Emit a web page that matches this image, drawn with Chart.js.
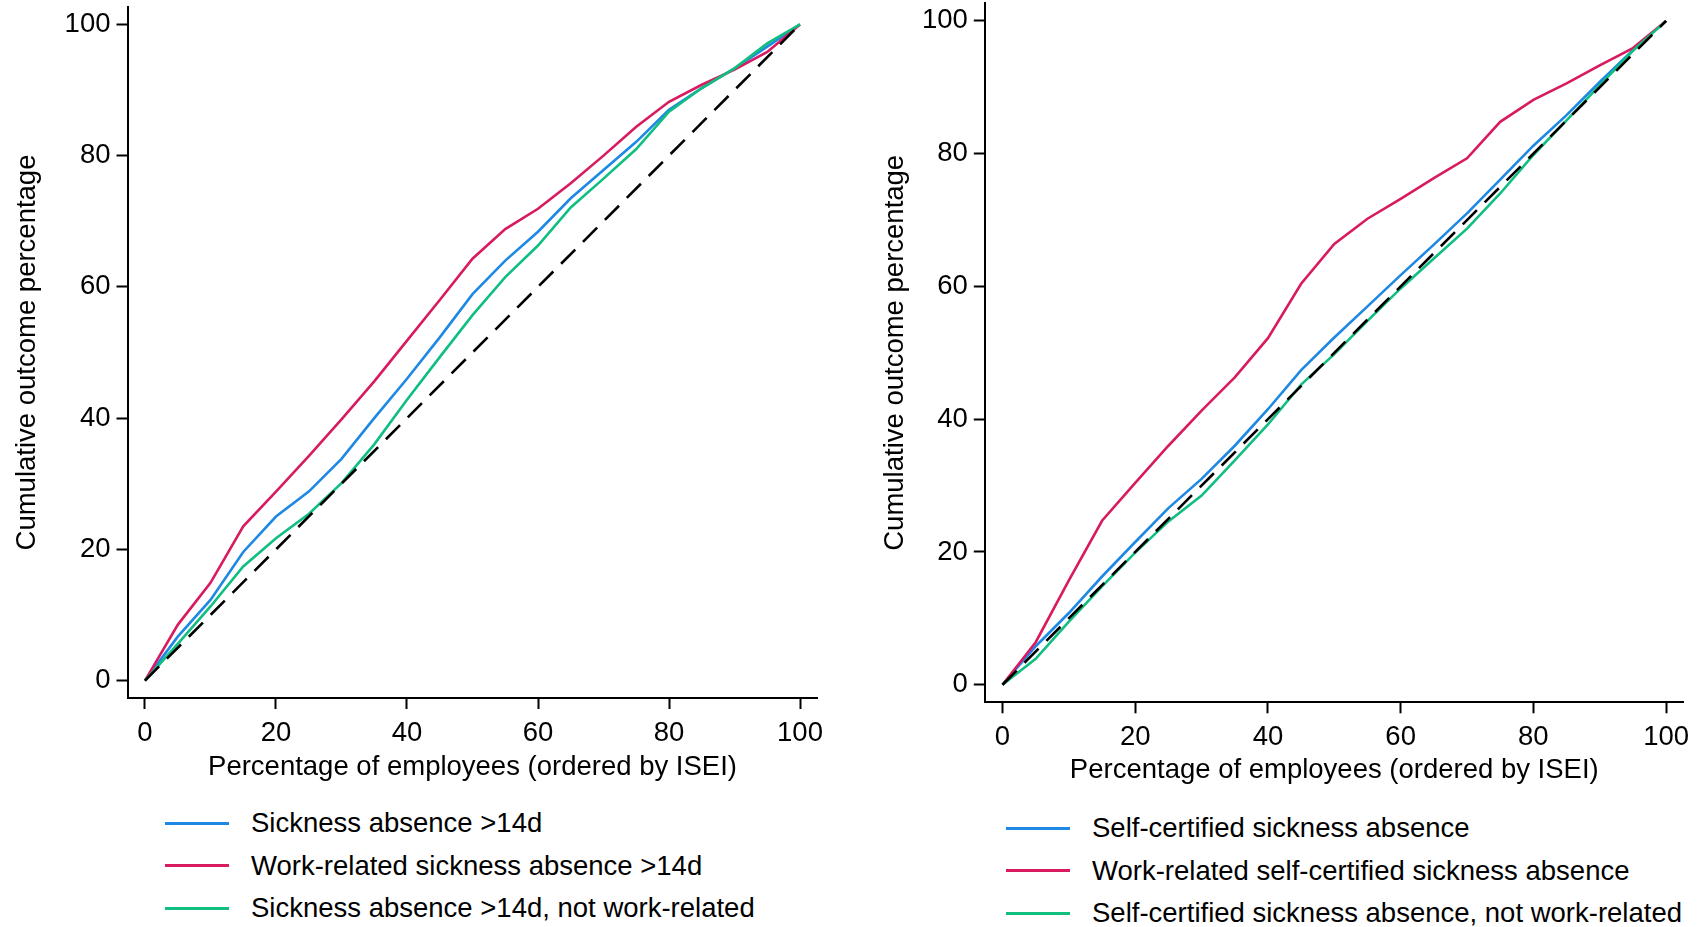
<!DOCTYPE html>
<html>
<head>
<meta charset="utf-8">
<script src="https://cdn.jsdelivr.net/npm/chart.js@4/dist/chart.umd.min.js"></script>
<style>
  body { margin: 0; background: #fff; }
  .panel { position: absolute; top: 0; }
  .legend { position: absolute; font-family: "Liberation Sans", Arial, sans-serif; font-size: 27.5px; color: #000; }
  .legend .row { position: absolute; white-space: nowrap; display: flex; align-items: center; height: 34px; }
  .legend .swatch { width: 64px; height: 3px; }
  .legend .label { margin-left: 22px; line-height: 34px; }
</style>
</head>
<body>
<canvas id="leftChart" class="panel" width="850" height="790" style="left:0px"></canvas>
<canvas id="rightChart" class="panel" width="849" height="790" style="left:850px"></canvas>
<div id="leftLegend" class="legend" style="left:165px; top:806px"></div>
<div id="rightLegend" class="legend" style="left:1006px; top:811px"></div>
<script>
// percentage of employees (ordered by ISEI)
const shareEmployees = [0, 5, 10, 15, 20, 25, 30, 35, 40, 45, 50, 55, 60, 65, 70, 75, 80, 85, 90, 95, 100];
const equalityLine = [0, 100];
const tickValues = [0, 20, 40, 60, 80, 100];

// left panel: sickness absence > 14 days
const leftLabels = ["Sickness absence >14d", "Work-related sickness absence >14d", "Sickness absence >14d, not work-related"];
const sickAbs14 = [0, 6.7, 12.3, 19.6, 25.0, 28.8, 33.8, 40.0, 46.0, 52.3, 58.9, 64.0, 68.4, 73.5, 77.8, 82.1, 87.0, 90.3, 93.3, 96.6, 100];
const workSickAbs14 = [0, 8.5, 14.9, 23.5, 28.8, 34.2, 39.8, 45.6, 51.8, 58.0, 64.3, 68.8, 71.9, 75.8, 80.0, 84.4, 88.2, 90.8, 93.1, 95.8, 100];
const notWorkSickAbs14 = [0, 5.6, 11.3, 17.4, 21.7, 25.4, 30.1, 36.0, 42.8, 49.3, 55.7, 61.5, 66.3, 72.1, 76.5, 81.0, 86.7, 90.3, 93.3, 97.1, 100];

// right panel: self-certified sickness absence
const rightLabels = ["Self-certified sickness absence", "Work-related self-certified sickness absence", "Self-certified sickness absence, not work-related"];
const selfCert = [0, 5.8, 10.8, 16.3, 21.5, 26.6, 31.0, 36.0, 41.5, 47.4, 52.3, 57.0, 61.7, 66.3, 71.0, 76.1, 81.2, 85.8, 90.8, 95.6, 100];
const workSelfCert = [0, 6.4, 15.7, 24.7, 30.4, 36.0, 41.3, 46.3, 52.2, 60.4, 66.4, 70.2, 73.2, 76.3, 79.3, 84.8, 88.1, 90.6, 93.3, 95.9, 100];
const notWorkSelfCert = [0, 3.9, 9.5, 14.8, 19.9, 24.6, 28.5, 33.8, 39.2, 45.2, 49.8, 54.8, 59.7, 64.2, 68.7, 74.0, 79.8, 85.0, 90.3, 95.5, 100];

const colors = ["#1E88E5", "#D81B60", "#10BF80"];
const FONT = "'Liberation Sans', Arial, sans-serif";

function toPoints(ys) {
  return ys.map((y, i) => ({ x: shareEmployees[i], y: y }));
}

function makeChart(id, labels, series, box) {
  const datasets = series.map((ys, i) => ({
    label: labels[i],
    data: toPoints(ys),
    borderColor: colors[i],
    borderWidth: 2.6,
    order: 3 - i
  }));
  datasets.push({
    label: "equality",
    data: equalityLine.map(v => ({ x: v, y: v })),
    borderColor: "#000",
    borderWidth: 2.6,
    borderDash: [20, 11],
    order: 0
  });

  const tickStyle = { color: "#000", font: { family: FONT, size: 27.5 } };

  return new Chart(document.getElementById(id), {
    type: "line",
    data: { datasets },
    options: {
      responsive: false,
      animation: false,
      elements: { point: { radius: 0 }, line: { tension: 0 } },
      layout: { padding: { left: 0, top: box.top, right: box.right, bottom: 0 } },
      plugins: { legend: { display: false }, tooltip: { enabled: false } },
      scales: {
        x: {
          type: "linear",
          min: -2.67,
          max: 102.67,
          afterFit: s => { s.height = box.xHeight; s.paddingLeft = 0; s.paddingRight = 0; },
          afterBuildTicks: s => { s.ticks = tickValues.map(v => ({ value: v })); },
          grid: { drawOnChartArea: false, tickLength: 11, tickWidth: 2, tickColor: "#000" },
          border: { color: "#000", width: 2 },
          ticks: Object.assign({ padding: 8, maxRotation: 0 }, tickStyle),
          title: {
            display: true,
            text: "Percentage of employees (ordered by ISEI)",
            color: "#000",
            font: { family: FONT, size: 27.5 },
            padding: { top: 0, bottom: box.xTitlePad }
          }
        },
        y: {
          type: "linear",
          min: -2.65,
          max: 102.65,
          afterFit: s => { s.width = box.yWidth; s.paddingTop = 0; s.paddingBottom = 0; },
          afterBuildTicks: s => { s.ticks = tickValues.map(v => ({ value: v })); },
          grid: { drawOnChartArea: false, tickLength: 11, tickWidth: 2, tickColor: "#000" },
          border: { color: "#000", width: 2 },
          ticks: Object.assign({ padding: 6 }, tickStyle),
          title: {
            display: true,
            text: "Cumulative outcome percentage",
            color: "#000",
            font: { family: FONT, size: 27.5 },
            padding: { top: box.yTitlePad, bottom: 0 }
          }
        }
      }
    }
  });
}

function buildLegend(el, chart) {
  chart.data.datasets.slice(0, 3).forEach((ds, i) => {
    const row = document.createElement("div");
    row.className = "row";
    row.style.top = (i * 42.5) + "px";
    const sw = document.createElement("span");
    sw.className = "swatch";
    sw.style.background = ds.borderColor;
    const tx = document.createElement("span");
    tx.className = "label";
    tx.textContent = ds.label;
    row.appendChild(sw);
    row.appendChild(tx);
    el.appendChild(row);
  });
}

const leftChart = makeChart("leftChart", leftLabels, [sickAbs14, workSickAbs14, notWorkSickAbs14],
  { top: 7, right: 32.5, xHeight: 92, yWidth: 127.5, xTitlePad: 6.5, yTitlePad: 11 });
const rightChart = makeChart("rightChart", rightLabels, [selfCert, workSelfCert, notWorkSelfCert],
  { top: 3.3, right: 15.2, xHeight: 87.7, yWidth: 134.8, xTitlePad: 3, yTitlePad: 29 });

buildLegend(document.getElementById("leftLegend"), leftChart);
buildLegend(document.getElementById("rightLegend"), rightChart);
</script>
</body>
</html>
